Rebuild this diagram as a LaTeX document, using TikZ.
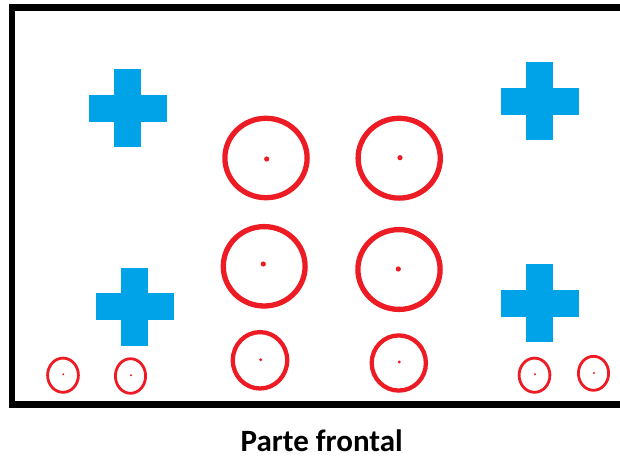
\documentclass[tikz,border=0pt]{standalone}
\usepackage{fontspec}
\setmainfont{Carlito}
\definecolor{pblue}{RGB}{0,162,232}
\definecolor{pred}{RGB}{237,28,36}
\tikzset{
  bluecross/.pic={
    \fill[pblue] (-39,-13.5) rectangle (39,13.5);
    \fill[pblue] (-13.5,-39) rectangle (13.5,39);
  },
  bigring/.style={draw=pred, line width=5.3pt},
  midring/.style={draw=pred, line width=4.3pt},
  smallring/.style={draw=pred, line width=2.8pt},
  frameline/.style={draw=black, line width=6.5pt},
}
\begin{document}
\begin{tikzpicture}[x=1pt,y=-1pt]
\useasboundingbox (0,0) rectangle (620,458);
\begin{scope}
\clip (0,0) rectangle (620,458);
\draw[frameline] (630,7.5) -- (12,7.5) -- (12,404.5) -- (630,404.5);
\end{scope}
% crosses
\pic at (127.5,108) {bluecross};
\pic at (539.5,101.3) {bluecross};
\pic at (134.7,306.5) {bluecross};
\pic at (539.5,303) {bluecross};
% big rings
\draw[bigring] (266,158) ellipse [x radius=41.1, y radius=39.7];
\fill[pred] (266.7,159) circle (2.6);
\draw[bigring] (399.2,158.2) ellipse [x radius=41.1, y radius=39.9];
\fill[pred] (400,157.7) circle (2.6);
\draw[bigring] (264.2,266.3) ellipse [x radius=40.9, y radius=39.7];
\fill[pred] (263.3,264) circle (2.6);
\draw[bigring] (399,269.5) ellipse [x radius=41.1, y radius=39.9];
\fill[pred] (398.3,269) circle (2.6);
% medium rings
\draw[midring] (260,360.3) ellipse [x radius=27.2, y radius=28.2];
\fill[pred] (260.7,359.7) circle (1.6);
\draw[midring] (398.8,363) ellipse [x radius=27.1, y radius=27.6];
\fill[pred] (399.3,362) circle (1.6);
% small rings
\draw[smallring] (63,375.2) ellipse [x radius=15.4, y radius=17.1];
\fill[pred] (63.3,374.3) circle (1.1);
\draw[smallring] (130.5,376) ellipse [x radius=15.1, y radius=17.3];
\fill[pred] (131,375.3) circle (1.1);
\draw[smallring] (534.5,375.2) ellipse [x radius=15.4, y radius=17.1];
\fill[pred] (535,374.3) circle (1.1);
\draw[smallring] (593.5,373.3) ellipse [x radius=15.1, y radius=17];
\fill[pred] (594,373) circle (1.1);
% caption
\node[anchor=base, inner sep=0pt, font=\fontsize{31}{31}\selectfont\bfseries] (caption) at (321.7,451.7) {Parte frontal};
\end{tikzpicture}
\end{document}
